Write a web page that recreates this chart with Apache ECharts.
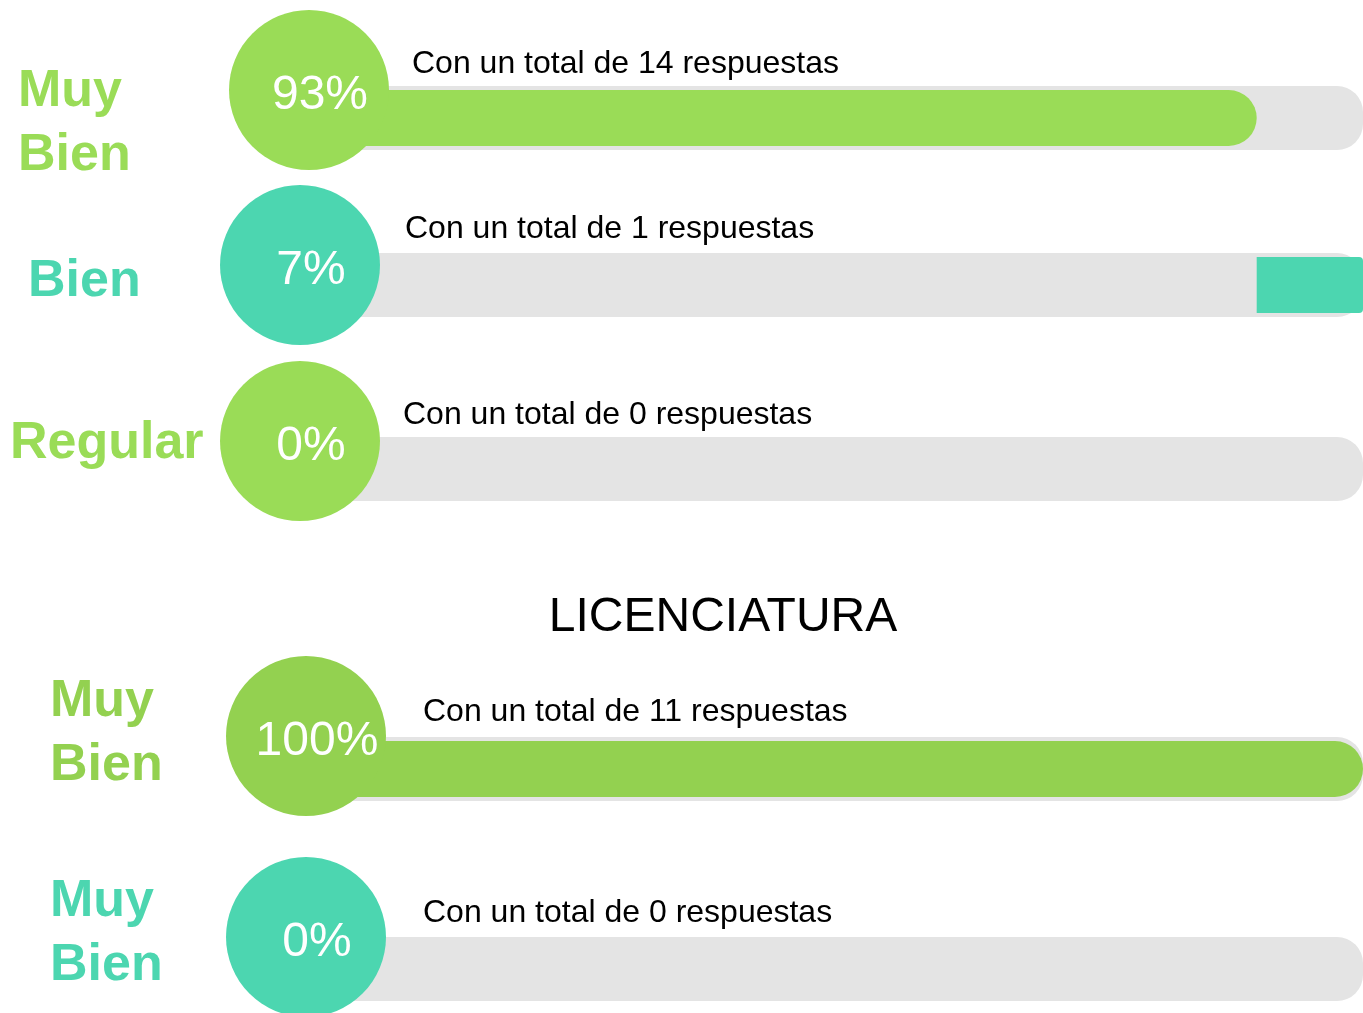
<!DOCTYPE html>
<html>
<head>
<meta charset="utf-8">
<script src="https://cdn.jsdelivr.net/npm/echarts@6/dist/echarts.min.js"></script>
<style>
  html, body { margin: 0; padding: 0; background: #fff; }
  #chart { width: 1363px; height: 1013px; }
</style>
</head>
<body>
<div id="chart"></div>
<script>
// datos
const etiquetas = ['Muy\nBien', 'Bien', 'Regular', 'Muy\nBien', 'Muy\nBien']
const porcentajes = [93, 7, 0, 100, 0]
const inicio = [0, 93, 0, 0, 0] // donde arranca la barra de color
const respuestas = [14, 1, 0, 11, 0]
const titulo = 'LICENCIATURA'

// estilos / posiciones
const colores = ['#9adc57', '#4cd6b0', '#9adc57', '#93d150', '#4cd6b0']
const pista = '#e4e4e4'
const fuente = "'Liberation Sans', Arial, sans-serif"
const filaY = [118, 285, 469, 769, 969]
const circulos = [[309, 90], [300, 265], [300, 441], [306, 736], [306, 937]]
const textoPos = [[412, 64], [405, 229], [403, 415], [423, 712], [423, 913]]
const etiquetaPos = [[18, 124], [28, 282], [10, 444], [50, 734], [50, 934]]

const chart = echarts.init(document.getElementById('chart'))

const grid = []
const xAxis = []
const yAxis = []
const series = []
const graphic = []

porcentajes.forEach((p, i) => {
  grid.push({ left: 300, right: 0, top: filaY[i] - 32, height: 64 })
  xAxis.push({ type: 'value', gridIndex: i, min: 30, max: 100, show: false })
  yAxis.push({ type: 'category', gridIndex: i, data: ['f'], show: false })
  yAxis.push({ type: 'category', gridIndex: i, data: ['f'], show: false })

  // pista gris
  series.push({
    type: 'bar',
    xAxisIndex: i,
    yAxisIndex: i * 2,
    barWidth: 64,
    silent: true,
    data: [100],
    itemStyle: { color: pista, borderRadius: [0, 26, 26, 0] },
    z: 1
  })
  // hueco antes de la barra
  series.push({
    type: 'bar',
    xAxisIndex: i,
    yAxisIndex: i * 2 + 1,
    stack: 'fila' + i,
    barWidth: 56,
    silent: true,
    data: [inicio[i]],
    itemStyle: { color: 'transparent' },
    z: 2
  })
  // barra de color
  series.push({
    type: 'bar',
    xAxisIndex: i,
    yAxisIndex: i * 2 + 1,
    stack: 'fila' + i,
    barWidth: 56,
    data: [p],
    itemStyle: {
      color: colores[i],
      borderRadius: inicio[i] > 0 ? [0, 4, 4, 0] : [0, 28, 28, 0]
    },
    z: 3
  })

  const [cx, cy] = circulos[i]
  graphic.push({
    type: 'circle',
    z: 100,
    shape: { cx: cx, cy: cy, r: 80 },
    style: { fill: colores[i] }
  })
  graphic.push({
    type: 'text',
    z: 101,
    style: {
      text: p + '%',
      x: cx + 11,
      y: cy + 6,
      font: '48px ' + fuente,
      fill: '#fff',
      textAlign: 'center',
      textVerticalAlign: 'middle',
      align: 'center',
      verticalAlign: 'middle'
    }
  })
  graphic.push({
    type: 'text',
    z: 101,
    style: {
      text: 'Con un total de ' + respuestas[i] + ' respuestas',
      x: textoPos[i][0],
      y: textoPos[i][1],
      font: '32px ' + fuente,
      fill: '#000',
      textAlign: 'left',
      textVerticalAlign: 'middle',
      align: 'left',
      verticalAlign: 'middle'
    }
  })
  graphic.push({
    type: 'text',
    z: 101,
    style: {
      text: etiquetas[i],
      x: etiquetaPos[i][0],
      y: etiquetaPos[i][1],
      font: 'bold 52px ' + fuente,
      lineHeight: 64,
      fill: colores[i],
      textAlign: 'left',
      textVerticalAlign: 'middle',
      align: 'left',
      verticalAlign: 'middle'
    }
  })
})

graphic.push({
  type: 'text',
  z: 101,
  style: {
    text: titulo,
    x: 723,
    y: 618,
    font: '48px ' + fuente,
    fill: '#000',
    textAlign: 'center',
    textVerticalAlign: 'middle',
    align: 'center',
    verticalAlign: 'middle'
  }
})

const option = {
  animation: false,
  grid: grid,
  xAxis: xAxis,
  yAxis: yAxis,
  series: series,
  graphic: graphic
}

option && chart.setOption(option)
</script>
</body>
</html>
